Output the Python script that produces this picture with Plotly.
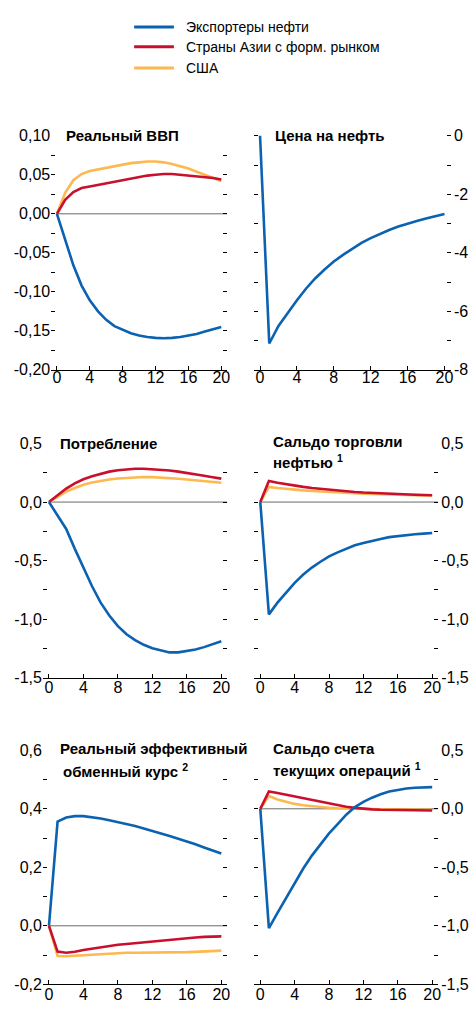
import numpy as np
import plotly.graph_objects as go

# ---------------- data ----------------
quarters = list(range(21))
series_names = ["Экспортеры нефти", "Страны Азии с форм. рынком", "США"]
series_colors = ["#0b62b0", "#c8102e", "#fdb84f"]

gdp_oil = [0, -0.032, -0.066, -0.092, -0.111, -0.125, -0.136, -0.144, -0.149, -0.153, -0.156,
           -0.158, -0.159, -0.1595, -0.159, -0.158, -0.156, -0.154, -0.151, -0.148, -0.145]
gdp_asia = [0, 0.018, 0.028, 0.033, 0.035, 0.037, 0.039, 0.041, 0.043, 0.045, 0.047,
            0.049, 0.050, 0.051, 0.051, 0.050, 0.049, 0.048, 0.047, 0.046, 0.044]
gdp_usa = [0, 0.027, 0.043, 0.051, 0.055, 0.057, 0.059, 0.061, 0.063, 0.065, 0.066,
           0.067, 0.067, 0.066, 0.064, 0.061, 0.058, 0.054, 0.050, 0.046, 0.042]

oil_price = [0, -7.1, -6.5, -6.05, -5.62, -5.22, -4.87, -4.57, -4.30, -4.07, -3.86,
             -3.66, -3.50, -3.35, -3.22, -3.10, -3.00, -2.91, -2.83, -2.75, -2.67]

cons_oil = [0, -0.11, -0.23, -0.40, -0.56, -0.72, -0.86, -0.97, -1.06, -1.13, -1.18,
            -1.22, -1.25, -1.27, -1.285, -1.285, -1.275, -1.26, -1.24, -1.215, -1.19]
cons_asia = [0, 0.06, 0.115, 0.16, 0.195, 0.22, 0.24, 0.26, 0.272, 0.28, 0.284,
             0.285, 0.282, 0.277, 0.27, 0.26, 0.25, 0.237, 0.225, 0.212, 0.20]
cons_usa = [0, 0.045, 0.09, 0.12, 0.147, 0.167, 0.182, 0.193, 0.202, 0.208, 0.212,
            0.214, 0.213, 0.21, 0.205, 0.199, 0.193, 0.186, 0.179, 0.172, 0.165]

oiltrade_oil = [0, -0.96, -0.86, -0.77, -0.69, -0.62, -0.56, -0.51, -0.465, -0.43, -0.40,
                -0.37, -0.35, -0.33, -0.315, -0.30, -0.29, -0.28, -0.275, -0.27, -0.265]
oiltrade_asia = [0, 0.18, 0.165, 0.152, 0.14, 0.13, 0.12, 0.112, 0.104, 0.097, 0.091,
                 0.086, 0.081, 0.077, 0.073, 0.07, 0.067, 0.064, 0.062, 0.06, 0.058]
oiltrade_usa = [0, 0.13, 0.12, 0.112, 0.106, 0.10, 0.095, 0.09, 0.086, 0.082, 0.078,
                0.075, 0.072, 0.069, 0.066, 0.064, 0.062, 0.06, 0.058, 0.057, 0.056]

reer_oil = [0, 0.356, 0.370, 0.375, 0.375, 0.372, 0.367, 0.361, 0.355, 0.348, 0.341,
            0.333, 0.325, 0.316, 0.307, 0.298, 0.289, 0.279, 0.268, 0.258, 0.247]
reer_asia = [0, -0.088, -0.092, -0.089, -0.083, -0.078, -0.073, -0.068, -0.065, -0.062, -0.059,
             -0.056, -0.053, -0.05, -0.047, -0.044, -0.042, -0.04, -0.038, -0.037, -0.036]
reer_usa = [0, -0.103, -0.104, -0.102, -0.100, -0.098, -0.096, -0.094, -0.093, -0.092, -0.092,
            -0.092, -0.092, -0.092, -0.092, -0.091, -0.09, -0.089, -0.088, -0.086, -0.085]

ca_oil = [0, -1.02, -0.89, -0.76, -0.63, -0.51, -0.40, -0.30, -0.21, -0.13, -0.05,
          0.015, 0.06, 0.095, 0.125, 0.148, 0.164, 0.174, 0.18, 0.184, 0.185]
ca_asia = [0, 0.148, 0.135, 0.12, 0.105, 0.088, 0.072, 0.057, 0.043, 0.03, 0.018,
           0.008, 0.0, -0.005, -0.008, -0.01, -0.012, -0.013, -0.014, -0.014, -0.015]
ca_usa = [0, 0.11, 0.08, 0.058, 0.042, 0.03, 0.021, 0.014, 0.009, 0.005, 0.002,
          0.0, -0.002, -0.003, -0.004, -0.005, -0.006, -0.007, -0.007, -0.008, -0.008]

x_ticks = [0, 4, 8, 12, 16, 20]

panel_titles = [
    ["Реальный ВВП"],
    ["Цена на нефть"],
    ["Потребление"],
    ["Сальдо торговли", "нефтью <sup>1</sup>"],
    ["Реальный эффективный", "обменный курс <sup>2</sup>"],
    ["Сальдо счета", "текущих операций <sup>1</sup>"],
]

# ---------------- layout helpers ----------------
W, H = 473, 1011
FONT = "Liberation Sans, Arial, Helvetica, sans-serif"
XRANGE = [-0.7, 20.7]


def fx(p):
    return p / W


def fy(p):
    return 1 - p / H


def fmt(v, dec):
    v = round(v, 6) + 0.0
    if abs(v) < 1e-9:
        v = 0.0
    s = f"{v:.{dec}f}"
    return s.replace(".", ",")


panels = [
    dict(series=[gdp_oil, gdp_asia, gdp_usa], yr=[-0.2, 0.1], minor=0.025, major=0.05, dec=2,
         side="left", xd=(51.5, 228.5), yd=(130, 368), zero=True, title_xy=(64, 130), gap=22, xso=-7),
    dict(series=[oil_price], yr=[-8, 0.1], minor=1, major=2, dec=0,
         side="right", xd=(255.2, 453.8), yd=(127, 368), zero=False, title_xy=(275, 130), gap=22, xso=-7),
    dict(series=[cons_oil, cons_asia, cons_usa], yr=[-1.5, 0.5], minor=0.25, major=0.5, dec=1,
         side="left", xd=(43.2, 228.8), yd=(443, 681), zero=True, title_xy=(58, 443), gap=22, xso=-5),
    dict(series=[oiltrade_oil, oiltrade_asia, oiltrade_usa], yr=[-1.5, 0.5], minor=0.25, major=0.5, dec=1,
         side="right", xd=(255.9, 441), yd=(443, 681), zero=True, title_xy=(272.5, 441), gap=20, xso=-5),
    dict(series=[reer_oil, reer_asia, reer_usa], yr=[-0.2, 0.6], minor=0.1, major=0.2, dec=1,
         side="left", xd=(43.2, 228.8), yd=(755, 993), zero=True, title_xy=(58, 753), gap=23, xso=-5),
    dict(series=[ca_oil, ca_asia, ca_usa], yr=[-1.5, 0.5], minor=0.25, major=0.5, dec=1,
         side="right", xd=(255.9, 441), yd=(755, 993), zero=True, title_xy=(272.5, 753), gap=22, xso=-5),
]

fig = go.Figure()
layout = {}
shapes = []
annotations = []

for i, p in enumerate(panels):
    n = "" if i == 0 else str(i + 1)
    xa, ya = "x" + n, "y" + n
    # draw order: USA, Asia, oil exporters on top
    order = list(range(len(p["series"])))[::-1]
    for k in order:
        fig.add_trace(go.Scatter(
            x=quarters, y=p["series"][k], mode="lines", xaxis=xa, yaxis=ya,
            line=dict(color=series_colors[k], width=2.6), showlegend=False,
            name=series_names[k], hoverinfo="skip"))

    lo, hi = p["yr"]
    step = p["minor"]
    tv = []
    v = np.ceil(lo / step - 1e-9) * step
    while v <= hi + 1e-9:
        tv.append(round(float(v), 6))
        v += step
    tt = []
    for v in tv:
        r = v / p["major"]
        tt.append(fmt(v, p["dec"]) if abs(r - round(r)) < 1e-6 else "")

    layout["xaxis" + n] = dict(
        domain=[fx(p["xd"][0]), fx(p["xd"][1])], range=XRANGE, anchor=ya,
        showgrid=False, zeroline=False, showline=True, linecolor="#000", linewidth=1,
        ticks="inside", ticklen=4, tickwidth=1, tickcolor="#000",
        tickvals=x_ticks, ticktext=[str(t) for t in x_ticks], ticklabelstandoff=p["xso"],
        tickfont=dict(family=FONT, size=16, color="#000"), fixedrange=True)
    layout["yaxis" + n] = dict(
        domain=[fy(p["yd"][1]), fy(p["yd"][0])], range=[lo, hi], anchor=xa, side=p["side"],
        showgrid=False, zeroline=False, showline=False,
        ticks="inside", ticklen=4, tickwidth=1, tickcolor="#000", mirror="ticks",
        tickvals=tv, ticktext=tt, ticklabelstandoff=(2 if p["side"] == "right" else 0),
        tickfont=dict(family=FONT, size=16, color="#000"), fixedrange=True)

    if p["zero"]:
        shapes.append(dict(type="line", xref=xa, yref=ya, x0=0, x1=XRANGE[1], y0=0, y1=0,
                           line=dict(color="#6a6a6a", width=1), layer="below"))

    tx, ty = p["title_xy"]
    for li, line in enumerate(panel_titles[i]):
        annotations.append(dict(
            text="<b>" + line + "</b>", xref="paper", yref="paper",
            x=fx(tx + (3 if li == 1 and i == 4 else 0)), y=fy(ty + li * p["gap"]),
            xanchor="left", yanchor="middle", showarrow=False,
            font=dict(family=FONT, size=15, color="#000")))

# legend drawn by hand
legend_y = [19.3, 39.5, 61]
for k in range(3):
    shapes.append(dict(type="line", xref="paper", yref="paper",
                       x0=fx(135), x1=fx(175), y0=fy(legend_y[k]), y1=fy(legend_y[k]),
                       line=dict(color=series_colors[k], width=3)))
    annotations.append(dict(text=series_names[k], xref="paper", yref="paper",
                            x=fx(185), y=fy(legend_y[k]), xanchor="left", yanchor="middle",
                            showarrow=False, font=dict(family=FONT, size=14, color="#000")))

fig.update_layout(
    width=W, height=H, margin=dict(l=0, r=0, t=0, b=0),
    paper_bgcolor="#fff", plot_bgcolor="rgba(0,0,0,0)",
    showlegend=False, shapes=shapes, annotations=annotations,
    font=dict(family=FONT, size=15, color="#000"),
    **layout)

post = ("document.body.style.margin='0';document.body.style.padding='0';"
        "var d=document.getElementById('{plot_id}');"
        "d.style.position='absolute';d.style.left='0px';d.style.top='0px';")

fig.write_html("out.html", include_plotlyjs=True, post_script=post,
               config={"displayModeBar": False, "responsive": False})
